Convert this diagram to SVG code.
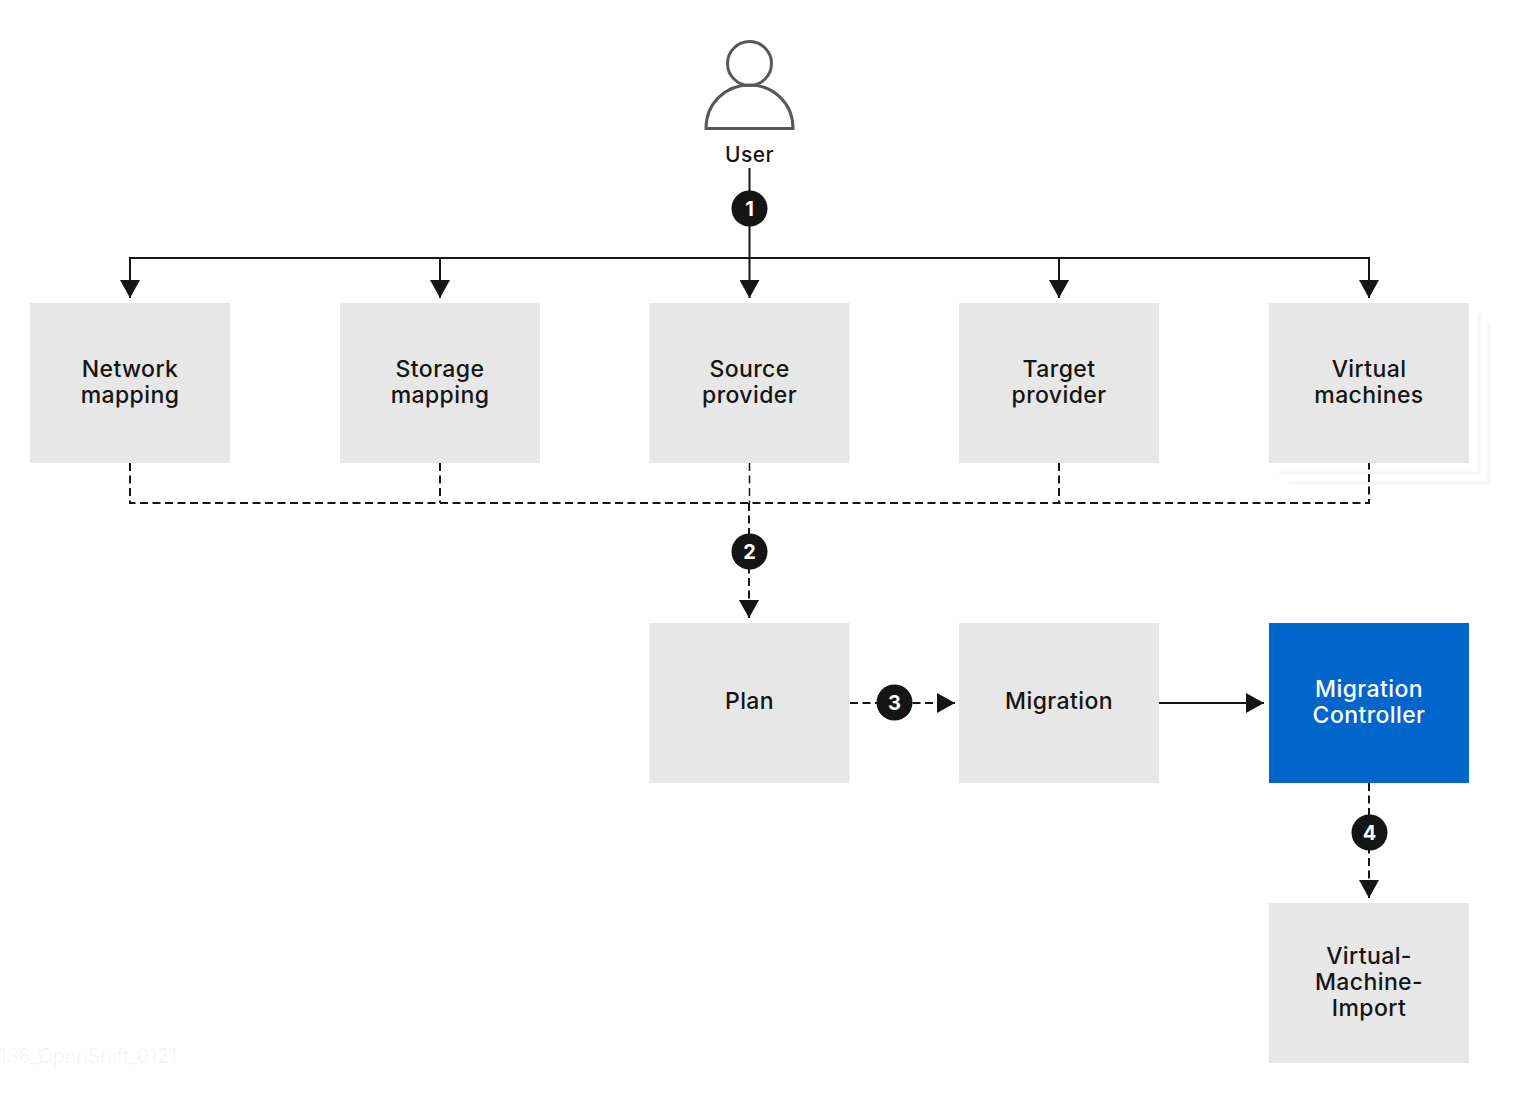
<svg xmlns="http://www.w3.org/2000/svg" width="1520" height="1097" viewBox="0 0 1520 1097">
<style>
.box{fill:#e7e7e7}
.t{font-family:"Inter","Liberation Sans",sans-serif;font-size:23px;font-weight:500;letter-spacing:.4px;fill:#151515;text-anchor:middle}
.s{fill:none;stroke:#151515;stroke-width:2}
.d{fill:none;stroke:#151515;stroke-width:2;stroke-dasharray:8 4.500}
.c{fill:#151515}
.n{font-family:"Inter","Liberation Sans",sans-serif;font-size:20px;font-weight:700;fill:#fff;text-anchor:middle}
.st{fill:none;stroke:#f5f5f5;stroke-width:3}
</style>
<defs>
<marker id="a" markerUnits="userSpaceOnUse" markerWidth="20" markerHeight="20" refX="19" refY="10" orient="auto"><path d="M1 0L19 10L1 20Z" fill="#151515"/></marker>
</defs>
<rect width="1520" height="1097" fill="#fff"/>
<g id="stack"><path class="st" d="M1279 473H1479V313M1289 483H1489V323"/></g>
<g id="user">
<circle cx="749.500" cy="63.500" r="22" fill="none" stroke="#585858" stroke-width="3"/>
<path d="M706 128.500C706 103 726 85 749.500 85C773 85 793 103 793 128.500Z" fill="none" stroke="#585858" stroke-width="3"/>
<text class="t" x="749.500" y="162" style="font-size:21px">User</text>
</g>
<g id="connectors">
<path class="s" d="M749.500 168V298" marker-end="url(#a)"/>
<path class="s" d="M130 298V258H1369V298" marker-end="url(#a)"/>
<path class="s" d="M130 258V298" marker-end="url(#a)"/>
<path class="s" d="M440 258V298" marker-end="url(#a)"/>
<path class="s" d="M1059 258V298" marker-end="url(#a)"/>
<path class="d" d="M130 463V503H1369V463"/>
<path class="d" d="M440 463V503"/>
<path class="d" d="M1059 463V503"/>
<path class="d" d="M749.500 463V503" style="stroke-width:1.500"/>
<path class="d" d="M749 503V618" marker-end="url(#a)"/>
<path class="d" d="M850 703H955" marker-end="url(#a)"/>
<path class="s" d="M1159 703H1264" marker-end="url(#a)"/>
<path class="d" d="M1369 783V898" marker-end="url(#a)"/>
</g>
<g id="badge1"><circle class="c" cx="749.500" cy="208.500" r="18"/><text class="n" x="749.500" y="215.500">1</text></g>
<g id="badge2"><circle class="c" cx="749.500" cy="551.500" r="18"/><text class="n" x="749.500" y="558.500">2</text></g>
<g id="badge3"><circle class="c" cx="894.500" cy="702.500" r="18"/><text class="n" x="894.500" y="709.500">3</text></g>
<g id="badge4"><circle class="c" cx="1369.500" cy="832.500" r="18"/><text class="n" x="1369.500" y="839.500">4</text></g>
<g id="network"><rect class="box" x="30" y="303" width="200" height="160"/><text class="t" x="130" y="377">Network</text><text class="t" x="130" y="403">mapping</text></g>
<g id="storage"><rect class="box" x="340" y="303" width="200" height="160"/><text class="t" x="440" y="377">Storage</text><text class="t" x="440" y="403">mapping</text></g>
<g id="source"><rect class="box" x="649.500" y="303" width="200" height="160"/><text class="t" x="749.500" y="377">Source</text><text class="t" x="749.500" y="403">provider</text></g>
<g id="target"><rect class="box" x="959" y="303" width="200" height="160"/><text class="t" x="1059" y="377">Target</text><text class="t" x="1059" y="403">provider</text></g>
<g id="vms"><rect class="box" x="1269" y="303" width="200" height="160"/><text class="t" x="1369" y="377">Virtual</text><text class="t" x="1369" y="403">machines</text></g>
<g id="plan"><rect class="box" x="649.500" y="623" width="200" height="160"/><text class="t" x="749.500" y="709">Plan</text></g>
<g id="migration"><rect class="box" x="959" y="623" width="200" height="160"/><text class="t" x="1059" y="709">Migration</text></g>
<g id="controller"><rect x="1269" y="623" width="200" height="160" fill="#0066cc"/><text class="t" style="fill:#fff" x="1369" y="697">Migration</text><text class="t" style="fill:#fff" x="1369" y="723">Controller</text></g>
<g id="import"><rect class="box" x="1269" y="903" width="200" height="160"/><text class="t" x="1369" y="964">Virtual-</text><text class="t" x="1369" y="990">Machine-</text><text class="t" x="1369" y="1016">Import</text></g>
<text x="-1" y="1063" style="font-family:Inter,sans-serif;font-size:19.800px;font-weight:300;fill:#f5f5f5">136_OpenShift_0121</text>
</svg>
